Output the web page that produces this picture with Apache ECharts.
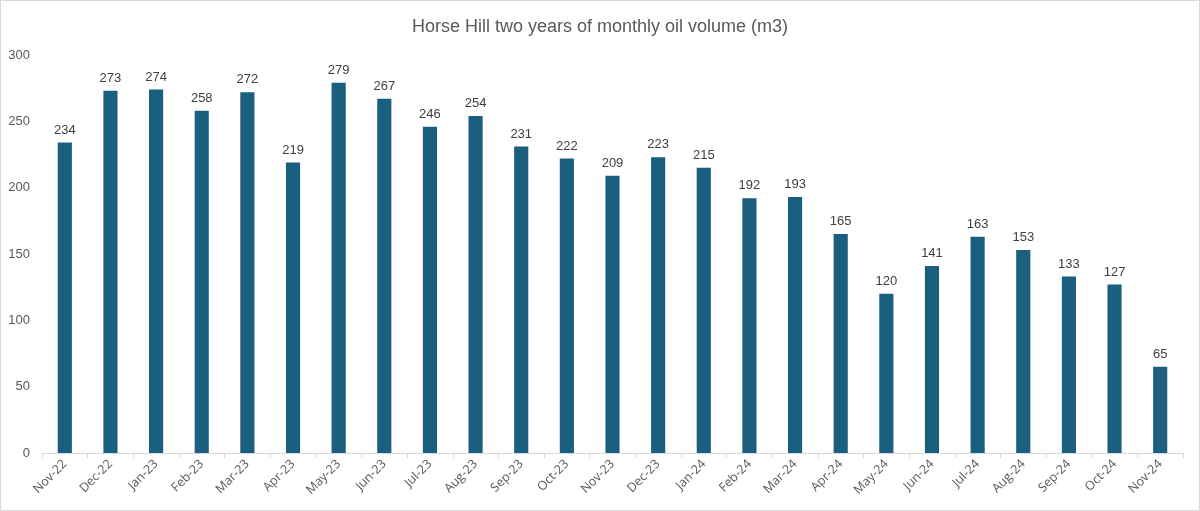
<!DOCTYPE html>
<html><head><meta charset="utf-8">
<script src="https://cdn.jsdelivr.net/npm/echarts@6/dist/echarts.min.js"></script>
<style>html,body{margin:0;padding:0;background:#fff}#c{width:1198px;height:509px;border:1px solid #d9d9d9}</style>
</head><body><div id="c"></div>
<script>
const categories = ["Nov-22","Dec-22","Jan-23","Feb-23","Mar-23","Apr-23","May-23","Jun-23","Jul-23","Aug-23","Sep-23","Oct-23","Nov-23","Dec-23","Jan-24","Feb-24","Mar-24","Apr-24","May-24","Jun-24","Jul-24","Aug-24","Sep-24","Oct-24","Nov-24"];
const values = [234,273,274,258,272,219,279,267,246,254,231,222,209,223,215,192,193,165,120,141,163,153,133,127,65];
const chart = echarts.init(document.getElementById('c'));
chart.setOption({
  animation:false,
  title:{text:'Horse Hill two years of monthly oil volume (m3)',left:'center',top:12,textStyle:{fontFamily:'Liberation Sans',fontSize:18,fontWeight:'normal',color:'#595959'}},
  grid:{left:41,right:16,top:54,bottom:57,containLabel:false},
  xAxis:{type:'category',data:categories,
    axisLine:{lineStyle:{color:'#d9d9d9'}},
    axisTick:{show:true,alignWithLabel:false,length:5,lineStyle:{color:'#d9d9d9'}},
    axisLabel:{rotate:45,fontFamily:'Open Sans',fontSize:12.5,color:'#595959',margin:9,interval:0}},
  yAxis:{type:'value',min:0,max:300,interval:50,splitLine:{show:false},
    axisLine:{show:false},axisTick:{show:false},
    axisLabel:{fontFamily:'Liberation Sans',fontSize:13,color:'#595959',margin:12}},
  series:[{type:'bar',data:values,barWidth:'31%',itemStyle:{color:'#1a5e80'},
    label:{show:true,position:'top',distance:6,fontFamily:'Liberation Sans',fontSize:13,color:'#404040'}}]
});
</script></body></html>
